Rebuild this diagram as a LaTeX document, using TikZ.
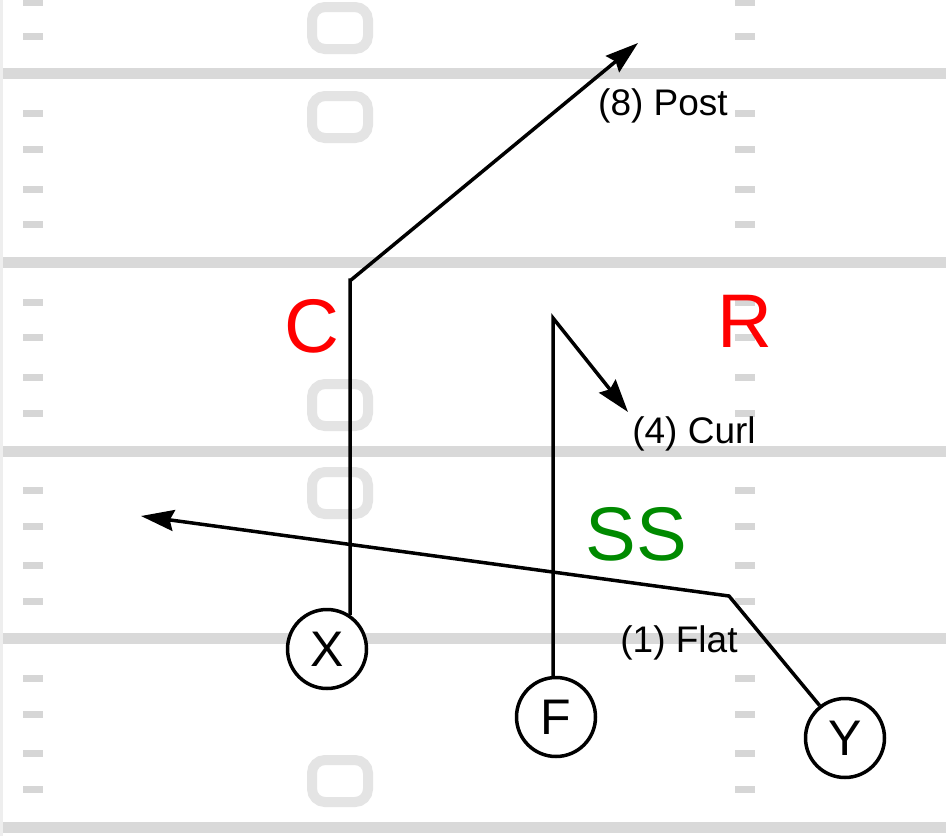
\documentclass[tikz,border=0pt]{standalone}
\usepackage{fontspec}
\setmainfont{Liberation Sans}
\usetikzlibrary{arrows.meta}
\definecolor{fieldline}{HTML}{D9D9D9}
\definecolor{hashc}{HTML}{D6D6D6}
\definecolor{numc}{HTML}{E4E4E4}
\definecolor{edgec}{HTML}{EEEEEE}
\definecolor{ssgreen}{HTML}{008A00}
\tikzset{
  player/.style={circle, draw=black, line width=3.5pt, minimum size=79pt, inner sep=0pt, fill=white, font=\fontsize{50}{52}\selectfont},
  route/.style={draw=black, line width=3.5pt, line join=miter},
  routearrow/.style={route, -{Stealth[length=33pt, width=21pt, inset=4pt]}},
  routelabel/.style={font=\fontsize{37}{40}\selectfont, inner sep=0pt, anchor=base},
  defender/.style={font=\fontsize{76}{80}\selectfont, inner sep=0pt},
  yardline/.style={draw=fieldline, line width=11pt},
  hashmark/.style={draw=hashc, line width=7pt},
  yardnum/.style={draw=numc, line width=10pt, rounded corners=13pt},
}
\begin{document}
\begin{tikzpicture}[x=1pt, y=-1pt]
\useasboundingbox (0,0) rectangle (946,836);
\fill[white] (0,0) rectangle (946,836);
% left edge
\draw[edgec, line width=2.5pt] (1.5,0) -- (1.5,836);
% yard lines
\foreach \yy in {73,262,451,638,827} {
  \draw[yardline] (3,\yy) -- (946,\yy);
}
% hash marks
\foreach \yy in {2,36,113,149,189,224,302,337,377,413,490,526,565,601,678,714,753,789} {
  \draw[hashmark] (23,\yy) -- (43,\yy);
  \draw[hashmark] (735,\yy) -- (755,\yy);
}
% yard numbers
\foreach \yy in {28,117,405,493,781} {
  \draw[yardnum] (312,\yy-21) rectangle (368,\yy+21);
}
% players
\node[player] (X) at (327,649) {X};
\node[player] (F) at (556,717) {F};
\node[player] (Y) at (845,738) {Y};
% route points
\coordinate (xbreak) at (351,280);
\coordinate (xend) at (638,43);
\coordinate (fbreak) at (553,318);
\coordinate (fend) at (628,412);
\coordinate (ybreak) at (729,596);
\coordinate (yend) at (141,516);
% routes
\draw[routearrow] (X.56) -- (X.56 |- xbreak) -- (xbreak) -- (xend);
\draw[routearrow] (F.north -| fbreak) -- (fbreak) -- (fend);
\draw[routearrow] (Y.128) -- (ybreak) -- (yend);
% labels
\node[routelabel] (lpost) at (663,115) {(8) Post};
\node[routelabel] (lcurl) at (694,443) {(4) Curl};
\node[routelabel] (lflat) at (679,652) {(1) Flat};
% defenders
\node[defender, text=red] (dC) at (312,326) {C};
\node[defender, text=red] (dR) at (745,321) {R};
\node[defender, text=ssgreen] (dSS) at (636,534) {SS};
\end{tikzpicture}
\end{document}
